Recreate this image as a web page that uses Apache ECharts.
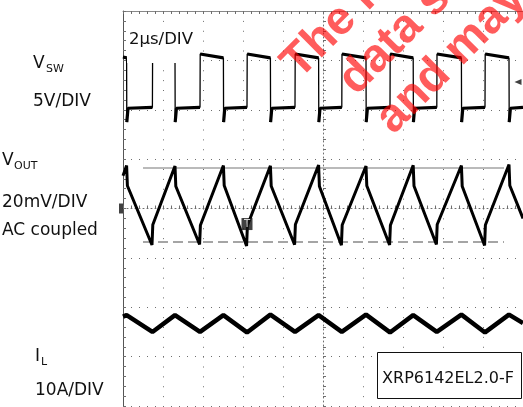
<!DOCTYPE html>
<html><head><meta charset="utf-8">
<script src="https://cdn.jsdelivr.net/npm/echarts@6/dist/echarts.min.js"></script>
<style>html,body{margin:0;padding:0;background:#fff;overflow:hidden}#c{width:523px;height:407px}</style>
</head><body><div id="c"></div>
<script>
// time base: 2 µs/DIV, screen spans -10 .. +10 µs
// V_SW (volts, 5 V/DIV)
const vswTime = [-10, -9.82, -9.81, -9.75, -8.53, -8.52, -8.46, -7.40, -7.39, -7.33, -6.15, -6.14, -6.08,
  -4.98, -4.97, -4.91, -3.80, -3.79, -3.73, -2.63, -2.62, -2.56, -1.40, -1.39, -1.33, -0.22, -0.21, -0.15,
  0.94, 0.95, 1.01, 2.15, 2.16, 2.22, 3.35, 3.36, 3.42, 4.51, 4.52, 4.58, 5.69, 5.70, 5.76, 6.92, 6.93, 6.99,
  8.10, 8.11, 8.17, 9.30, 9.31, 9.37, 10];
const vswVolt = [5.2, 5.1, -1.4, 0.0, 0.1, 5.5, 5.3, 5.1, -1.4, 0.0, 0.1, 5.5, 5.3,
  5.1, -1.4, 0.0, 0.1, 5.5, 5.3, 5.1, -1.4, 0.0, 0.1, 5.5, 5.3, 5.1, -1.4, 0.0,
  0.1, 5.5, 5.3, 5.1, -1.4, 0.0, 0.1, 5.5, 5.3, 5.1, -1.4, 0.0, 0.1, 5.5, 5.3, 5.1, -1.4, 0.0,
  0.1, 5.5, 5.3, 5.1, -1.4, 0.0, 0.1];
// V_OUT ripple (mV, 20 mV/DIV, AC coupled)
const voutTime = [-10, -9.82, -9.78, -8.55, -8.51, -7.40, -7.36, -6.17, -6.13, -4.98, -4.94, -3.82, -3.78,
  -2.63, -2.59, -1.42, -1.38, -0.22, -0.18, 0.92, 0.96, 2.15, 2.19, 3.33, 3.37, 4.51, 4.55, 5.67, 5.71,
  6.92, 6.96, 8.08, 8.12, 9.30, 9.34, 10];
const voutMv = [13.3, 17.4, 9.2, -14.8, -6.6, 17.2, 9.0, -14.6, -6.8, 17.4, 9.3, -15.2, -6.9,
  17.3, 9.1, -14.7, -6.5, 17.6, 9.0, -14.9, -6.7, 17.2, 9.2, -14.8, -6.8, 17.5, 9.1, -14.6, -6.5,
  17.4, 9.0, -15.0, -6.7, 17.8, 9.3, -4.0];
// inductor current I_L (A, 10 A/DIV)
const ilTime = [-10, -9.82, -8.53, -7.40, -6.15, -4.98, -3.80, -2.63, -1.40, -0.22, 0.94, 2.15, 3.35, 4.51, 5.69, 6.92, 8.10, 9.30, 10];
const ilAmp = [8.1, 8.4, 5.0, 8.4, 5.0, 8.4, 4.9, 8.5, 5.0, 8.4, 5.0, 8.5, 4.9, 8.4, 5.0, 8.5, 4.9, 8.5, 6.8];
// cursors on V_OUT
const cursorTime = [-9.0, 9.05];
const cursorHighMv = 16.4;
const cursorLowMv = -13.6;
// trigger markers
const trigTime = -3.8, trigMv = -6.3;
const trigLevelTime = 9.75, trigLevelV = 2.66;

const zip = (a, b) => a.map((t, i) => [t, b[i]]);
// plateau-only copy of V_SW: same points, with a break wherever the trace switches level
const vswLevels = [];
vswTime.forEach((t, i) => {
  if (i > 0 && Math.abs(vswVolt[i] - vswVolt[i - 1]) > 3) vswLevels.push([t, null]);
  vswLevels.push([t, vswVolt[i]]);
});

const DIV = 4;
const vswOff = 2.03, vswScale = 5;
const voutOff = 0, voutScale = 20;
const ilOff = -3, ilScale = 10;
const chAxis = (off, sc) => ({ type: 'value', show: false, min: (-DIV - off) * sc, max: (DIV - off) * sc, gridIndex: 0 });

const grey = '#6e6e6e';
const chart = echarts.init(document.getElementById('c'), null, { renderer: 'canvas' });
const lbl = (text, x, y, size) => ({ type: 'text', x, y, z: 60,
  style: { text, fill: '#111', fontFamily: 'DejaVu Sans', fontSize: size, verticalAlign: 'middle', align: 'left' } });
const wm = (text, x, y) => ({ type: 'text', x, y, rotation: Math.PI / 4, z: 100,
  style: { text, fill: 'rgba(255,0,0,0.64)', fontFamily: 'Liberation Sans', fontWeight: 'bold', fontSize: 47, verticalAlign: 'middle', align: 'left' } });

chart.setOption({
  animation: false,
  grid: { left: 123, top: 11, width: 400, height: 395, containLabel: false },
  xAxis: [
    { type: 'value', min: -10, max: 10, interval: 2, position: 'top',
      axisLine: { show: true, onZero: false, lineStyle: { color: '#888', width: 1 } },
      axisTick: { show: true, inside: true, length: 3, lineStyle: { color: grey } },
      minorTick: { show: true, splitNumber: 5, length: 3, lineStyle: { color: grey } },
      axisLabel: { show: false },
      splitLine: { show: true, lineStyle: { color: grey, width: 1, type: [1, 8.875] } } },
    { type: 'value', min: -10, max: 10, interval: 2, position: 'bottom',
      axisLine: { show: true, onZero: true, onZeroAxisIndex: 0, lineStyle: { color: grey, width: 1, type: [1, 3] } },
      axisTick: { show: true, inside: true, length: 3, lineStyle: { color: grey } },
      minorTick: { show: true, splitNumber: 5, length: 3, lineStyle: { color: grey } },
      axisLabel: { show: false }, splitLine: { show: false } }
  ],
  yAxis: [
    { type: 'value', min: -4, max: 4, interval: 1, position: 'left',
      axisLine: { show: true, onZero: false, lineStyle: { color: '#555', width: 1 } },
      axisTick: { show: true, inside: true, length: 3, lineStyle: { color: grey } },
      minorTick: { show: true, splitNumber: 5, length: 3, lineStyle: { color: grey } },
      axisLabel: { show: false },
      splitLine: { show: true, lineStyle: { color: grey, width: 1, type: [1, 7] } } },
    { type: 'value', min: -4, max: 4, interval: 1, position: 'left',
      axisLine: { show: true, onZero: true, onZeroAxisIndex: 0, lineStyle: { color: grey, width: 1, type: [1, 3] } },
      axisTick: { show: true, inside: true, length: 3, lineStyle: { color: grey } },
      minorTick: { show: true, splitNumber: 5, length: 3, lineStyle: { color: grey } },
      axisLabel: { show: false }, splitLine: { show: false } },
    chAxis(vswOff, vswScale),
    chAxis(voutOff, voutScale),
    chAxis(ilOff, ilScale)
  ],
  series: [
    { name: 'VSW', type: 'line', xAxisIndex: 0, yAxisIndex: 2, data: zip(vswTime, vswVolt), symbol: 'none',
      lineStyle: { color: '#000', width: 1.3 }, z: 5 },
    { name: 'VSW levels', type: 'line', xAxisIndex: 0, yAxisIndex: 2, data: vswLevels, symbol: 'none', connectNulls: false,
      lineStyle: { color: '#000', width: 3.2 }, z: 5 },
    { name: 'VOUT', type: 'line', xAxisIndex: 0, yAxisIndex: 3, data: zip(voutTime, voutMv), symbol: 'none',
      lineStyle: { color: '#000', width: 3 }, z: 5 },
    { name: 'IL', type: 'line', xAxisIndex: 0, yAxisIndex: 4, data: zip(ilTime, ilAmp), symbol: 'none',
      lineStyle: { color: '#000', width: 4.5 }, z: 5 },
    { name: 'cursorHigh', type: 'line', xAxisIndex: 0, yAxisIndex: 3, data: cursorTime.map(t => [t, cursorHighMv]), symbol: 'none',
      lineStyle: { color: '#777', width: 1.2 }, z: 4 },
    { name: 'cursorLow', type: 'line', xAxisIndex: 0, yAxisIndex: 3, data: cursorTime.map(t => [t, cursorLowMv]), symbol: 'none',
      lineStyle: { color: '#888', width: 1.5, type: [10, 5] }, z: 4 },
    { name: 'trigger', type: 'scatter', xAxisIndex: 0, yAxisIndex: 3, data: [[trigTime, trigMv]], symbol: 'rect', symbolSize: [11, 12],
      itemStyle: { color: '#111' }, z: 6, clip: false,
      label: { show: true, position: 'inside', formatter: 'T', color: '#fff', fontSize: 10, fontFamily: 'DejaVu Sans' } },
    { name: 'trigLevel', type: 'scatter', xAxisIndex: 0, yAxisIndex: 2, data: [[trigLevelTime, trigLevelV]], symbol: 'triangle', symbolRotate: 90,
      symbolSize: [6, 7], itemStyle: { color: '#111' }, z: 6, clip: false },
    { name: 'voutRef', type: 'scatter', xAxisIndex: 0, yAxisIndex: 3, data: [[-10, 0]], symbol: 'rect', symbolSize: [4, 10], symbolOffset: [-2, 0],
      itemStyle: { color: '#111' }, z: 6, clip: false }
  ],
  graphic: { elements: [
    lbl('V', 33, 64, 17), lbl('SW', 46, 69, 11),
    lbl('5V/DIV', 33, 102, 17),
    lbl('V', 2, 161, 17), lbl('OUT', 14, 166, 11),
    lbl('20mV/DIV', 2, 203, 17),
    lbl('AC coupled', 2, 231, 17),
    lbl('I', 35, 357, 17), lbl('L', 41, 362, 11),
    lbl('10A/DIV', 35, 391, 17),
    { type: 'rect', shape: { x: 127, y: 22, width: 70, height: 41 }, z: 50, style: { fill: '#fff' } },
    { type: 'text', x: 129, y: 40, z: 55, style: { text: '2μs/DIV', fill: '#111', fontFamily: 'DejaVu Sans', fontSize: 16.5, verticalAlign: 'middle' } },
    { type: 'rect', shape: { x: 377.5, y: 352.5, width: 144, height: 46 }, z: 50, style: { fill: '#fff', stroke: '#111', lineWidth: 1 } },
    { type: 'text', x: 448, y: 378.5, z: 55, style: { text: 'XRP6142EL2.0-F', fill: '#111', fontFamily: 'DejaVu Sans', fontSize: 16, align: 'center', verticalAlign: 'middle' } },
    wm('The information in this', 290, 71),
    wm('data sheet is preliminary', 347, 87),
    wm('and may change', 384, 126)
  ] }
});
</script>
</body></html>
